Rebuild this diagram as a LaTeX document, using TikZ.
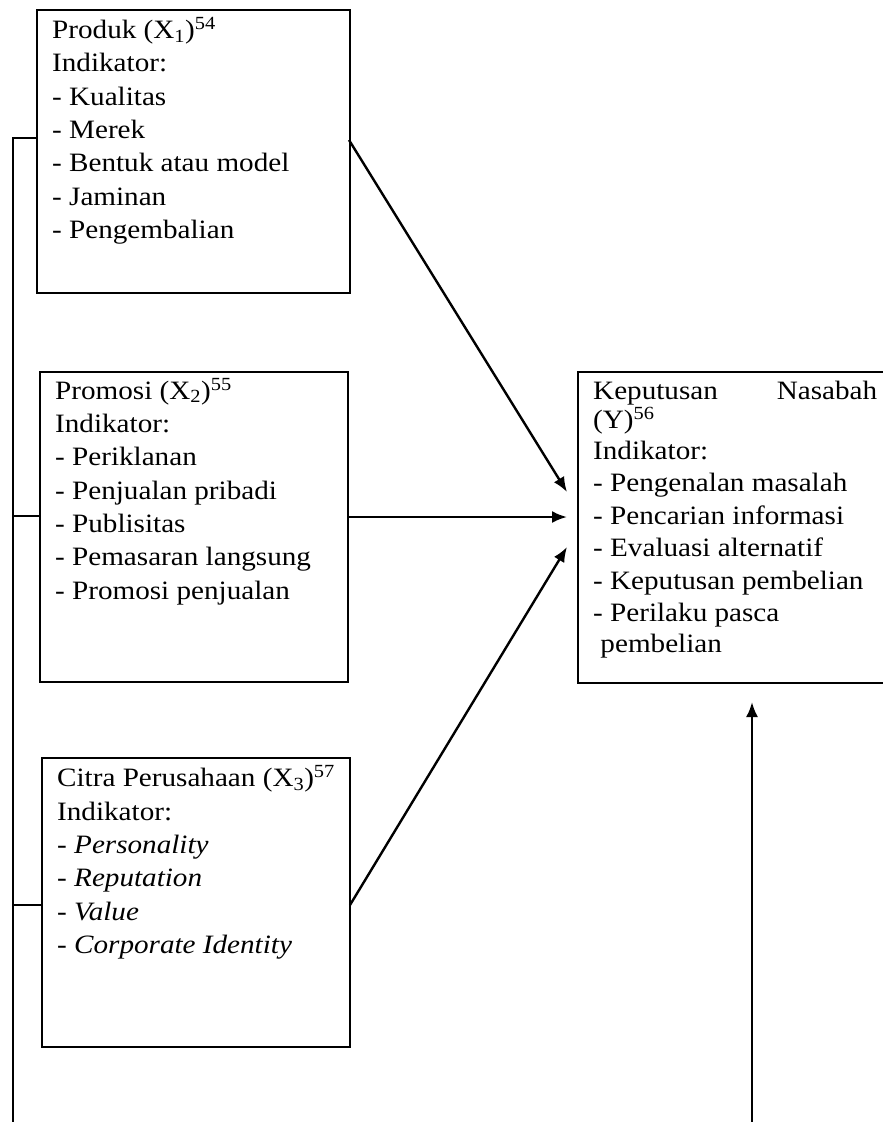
\documentclass[tikz,border=0pt]{standalone}
\usepackage{fontspec}
\setmainfont{Liberation Serif}[FakeStretch=1.1]
\usetikzlibrary{arrows.meta}
\newcommand{\topstrut}{\rule{0pt}{26pt}}
\begin{document}
\begin{tikzpicture}[x=1pt,y=-1pt,
  boxline/.style={line width=2.6pt},
  txt/.style={anchor=north west,inner sep=0pt,align=left,font=\fontsize{26.5}{33.3}\selectfont},
  ytxt/.style={txt,font=\fontsize{26.5}{32.5}\selectfont},
  arr/.style={line width=2.4pt,-{Latex[length=15pt,width=12pt]}},
  thin/.style={line width=1.5pt}]
\useasboundingbox (0,0) rectangle (883,1122);
% boxes
\draw[boxline] (37,10) rectangle (350,293);
\draw[boxline] (40,372) rectangle (348,682);
\draw[boxline] (42,758) rectangle (350,1047);
\draw[boxline] (578,372) rectangle (892,683);
\coordinate (b1e) at (349,140);
\coordinate (b2e) at (348,517);
\coordinate (b3e) at (350,905);
\coordinate (y1) at (567,492);
\coordinate (y2) at (567,517);
\coordinate (y3) at (567,547);
\coordinate (yb) at (752,702);
\coordinate (ybot) at (752,1125);
\coordinate (t1) at (37,138);
\coordinate (t2) at (40,516);
\coordinate (t3) at (42,905);
\coordinate (l1) at (13,138);
\coordinate (l2) at (13,516);
\coordinate (l3) at (13,905);
\coordinate (lbot) at (13,1125);
% texts
\node[txt] (x1) at (52,12.3) {\topstrut Produk (X\textsubscript{1})\textsuperscript{54}\\Indikator:\\- Kualitas\\- Merek\\- Bentuk atau model\\- Jaminan\\- Pengembalian};
\node[txt] (x2) at (55,373) {\topstrut Promosi (X\textsubscript{2})\textsuperscript{55}\\Indikator:\\- Periklanan\\- Penjualan pribadi\\- Publisitas\\- Pemasaran langsung\\- Promosi penjualan};
\node[txt] (x3) at (57,760.7) {\topstrut Citra Perusahaan (X\textsubscript{3})\textsuperscript{57}\\Indikator:\\- \textit{Personality}\\- \textit{Reputation}\\- \textit{Value}\\- \textit{Corporate Identity}};
\node[ytxt] (y) at (593,373) {\topstrut\makebox[284pt][s]{Keputusan\hfill Nasabah}\\[-3.5pt](Y)\textsuperscript{56}\\[-1.5pt]Indikator:\\- Pengenalan masalah\\- Pencarian informasi\\- Evaluasi alternatif\\- Keputusan pembelian\\- Perilaku pasca\\[-2pt]\ pembelian};
% connectors
\draw[arr] (b1e) -- (y1);
\draw[arr] (b2e) -- (y2);
\draw[arr] (b3e) -- (y3);
\draw[arr] (ybot) -- (yb);
\draw[thin] (lbot) -- (l1) -- (t1);
\draw[thin] (l2) -- (t2);
\draw[thin] (l3) -- (t3);
\end{tikzpicture}
\end{document}
